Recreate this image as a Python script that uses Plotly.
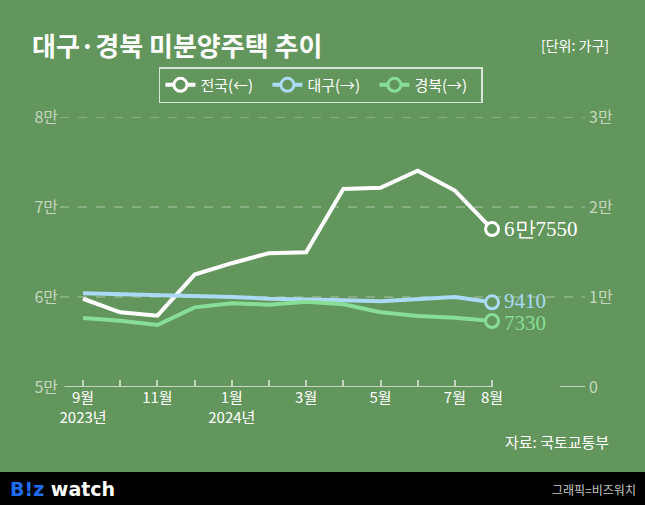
import plotly.graph_objects as go

months = ['9월<br>2023년', '', '11월', '', '1월<br>2024년', '', '3월', '', '5월', '', '7월', '8월']
national = [59806, 58299, 57925, 62489, 63755, 64874, 64964, 71997, 72129, 74037, 71822, 67550]
daegu = [10404, 10299, 10245, 10124, 10006, 9814, 9667, 9629, 9533, 9738, 10006, 9410]
gyeongbuk = [7667, 7370, 6890, 8852, 9296, 9150, 9480, 9185, 8300, 7890, 7700, 7330]

left_ticks = [50000, 60000, 70000, 80000]
left_text = ['5만', '6만', '7만', '8만']
right_ticks = [0, 10000, 20000, 30000]
right_text = ['0', '1만', '2만', '3만']

BG = 'rgb(99,150,92)'
AXIS = 'rgb(196,214,190)'
FONT = 'Noto Sans CJK KR'

series = [
    ('전국(←)', national, 'white', 'y', 0),
    ('대구(→)', daegu, 'rgb(170,218,245)', 'y2', 1),
    ('경북(→)', gyeongbuk, 'rgb(136,222,150)', 'y2', -2),
]

x = list(range(len(months)))
fig = go.Figure()

for name, vals, color, yax, _ in series:
    fig.add_trace(go.Scatter(x=x, y=vals, mode='lines', yaxis=yax, showlegend=False,
                             line=dict(color=color, width=4)))
for name, vals, color, yax, _ in series:
    fig.add_trace(go.Scatter(x=[x[-1]], y=[vals[-1]], mode='lines+markers', yaxis=yax, name=name,
                             line=dict(color=color, width=4),
                             marker=dict(size=13, color=BG, line=dict(color=color, width=3))))

# end labels
def fmt(v):
    return f'{v // 10000}만{v % 10000}' if v >= 10000 else str(v)

for name, vals, color, yax, dy in series:
    fig.add_annotation(x=x[-1], y=vals[-1], yref=yax, text=fmt(vals[-1]), showarrow=False,
                       xanchor='left', xshift=10, yshift=dy,
                       font=dict(family='Liberation Serif', size=21, color=color))

# grid lines
for v in left_ticks[1:]:
    fig.add_shape(type='line', xref='paper', x0=0, x1=1, y0=v, y1=v, yref='y',
                  line=dict(color='rgba(200,220,195,0.7)', width=1, dash='dash'), layer='below')
fig.add_shape(type='line', x0=-0.5, x1=x[-1], y0=left_ticks[0], y1=left_ticks[0], yref='y',
              line=dict(color=AXIS, width=2), layer='below')
fig.add_shape(type='line', xref='paper', x0=0.952, x1=1, y0=left_ticks[0], y1=left_ticks[0], yref='y',
              line=dict(color=AXIS, width=2), layer='below')

# footer bar
fig.add_shape(type='rect', xref='paper', yref='paper', x0=-0.2, x1=1.2, y0=-0.315, y1=-0.5,
              fillcolor='black', line=dict(width=0))

fig.update_layout(
    width=645, height=505,
    margin=dict(l=60, r=60, t=117, b=118),
    paper_bgcolor=BG, plot_bgcolor=BG,
    font=dict(family=FONT, color='white'),
    xaxis=dict(range=[-0.62, 13.5], tickvals=x, ticktext=months, ticks='inside', ticklen=7,
               tickcolor=AXIS, tickwidth=1.5, showgrid=False, zeroline=False, showline=False,
               tickfont=dict(size=15, color='white')),
    yaxis=dict(range=[50000, 80000], tickvals=left_ticks, ticktext=left_text, showgrid=False,
               zeroline=False, tickfont=dict(size=16, color=AXIS), ticklabelstandoff=1),
    yaxis2=dict(range=[0, 30000], tickvals=right_ticks, ticktext=right_text, overlaying='y',
                side='right', showgrid=False, zeroline=False, tickfont=dict(size=16, color=AXIS),
                ticklabelstandoff=3),
    legend=dict(orientation='h', x=0.497, xanchor='center', y=1.185, yanchor='top',
                bgcolor=BG, bordercolor='rgba(255,255,255,0.75)', borderwidth=1.5,
                font=dict(size=15, color='white'), itemwidth=30, tracegroupgap=0,
                entrywidth=62, entrywidthmode='pixels'),
)

fig.add_annotation(xref='paper', yref='paper', x=-0.057, y=1.267, xanchor='left', yanchor='middle',
                   text='<b>대구·경북 미분양주택 추이</b>', showarrow=False,
                   font=dict(size=26, color='white'))
fig.add_annotation(xref='paper', yref='paper', x=1.05, y=1.267, xanchor='right', yanchor='middle',
                   text='[단위: 가구]', showarrow=False, font=dict(size=14, color='white'))
fig.add_annotation(xref='paper', yref='paper', x=1.05, y=-0.2, xanchor='right', yanchor='middle',
                   text='자료: 국토교통부', showarrow=False, font=dict(size=15, color='white'))
fig.add_annotation(xref='paper', yref='paper', x=-0.1, y=-0.378, xanchor='left', yanchor='middle',
                   text="<b><span style='color:#1f6cf5'>B!z</span> watch</b>", showarrow=False,
                   font=dict(family='DejaVu Sans', size=19, color='white'))
fig.add_annotation(xref='paper', yref='paper', x=1.1, y=-0.378, xanchor='right', yanchor='middle',
                   text='그래픽=비즈워치', showarrow=False, font=dict(size=12, color='rgb(200,200,200)'))

fig.write_html('out.html', config={'displayModeBar': False},
               post_script="document.body.style.margin='0';")
